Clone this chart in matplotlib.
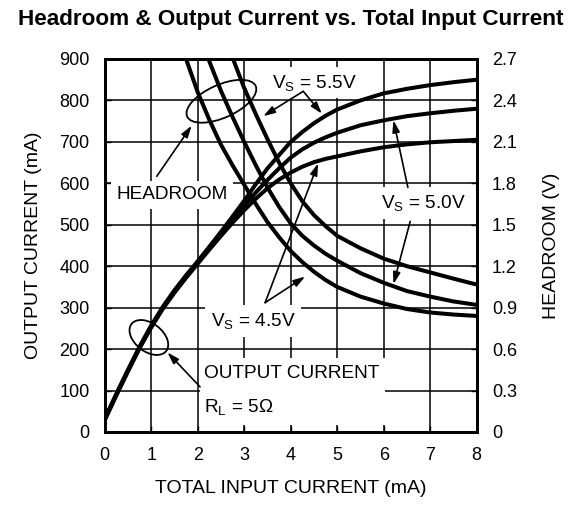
import matplotlib
matplotlib.use("Agg")
import matplotlib.pyplot as plt
import matplotlib.transforms as mtransforms
from matplotlib.patches import Ellipse
import numpy as np

plt.rcParams['font.family'] = ['Liberation Sans', 'DejaVu Sans']
plt.rcParams['mathtext.default'] = 'regular'

# output current (mA) vs total input current (mA)
i_in = [0, 0.25, 0.5, 0.75, 1, 1.25, 1.5, 1.75, 2, 2.25, 2.5, 2.75, 3, 3.25,
        3.5, 3.75, 4, 4.25, 4.5, 4.75, 5, 5.5, 6, 6.5, 7, 7.5, 8]
iout_55 = [32, 92, 150, 206, 257, 302, 342, 378, 412, 447, 483, 520, 558, 598,
           636, 668, 700, 724, 745, 763, 778, 800, 817, 828, 837, 844, 850]
iout_50 = [30, 90, 148, 204, 255, 300, 339, 375, 409, 444, 478, 512, 546, 578,
           608, 636, 662, 682, 698, 711, 722, 740, 752, 762, 769, 775, 780]
iout_45 = [28, 88, 146, 202, 252, 297, 336, 372, 406, 440, 473, 505, 535, 563,
           588, 609, 626, 640, 651, 659, 665, 677, 687, 694, 699, 702, 705]

# headroom (V) vs total input current (mA)
hr_x_45 = [1.75, 2.0, 2.25, 2.5, 2.75, 3.0, 3.25, 3.5, 3.75, 4.0, 4.25, 4.5,
           4.75, 5.0, 5.5, 6.0, 6.5, 7.0, 7.5, 8.0]
hr_45 = [2.70, 2.46, 2.26, 2.08, 1.93, 1.79, 1.65, 1.52, 1.41, 1.31, 1.23, 1.16,
         1.10, 1.05, 0.98, 0.93, 0.89, 0.865, 0.85, 0.84]
hr_x_50 = [2.23, 2.5, 2.75, 3.0, 3.25, 3.5, 3.75, 4.0, 4.25, 4.5, 4.75, 5.0,
           5.5, 6.0, 6.5, 7.0, 7.5, 8.0]
hr_50 = [2.70, 2.47, 2.28, 2.10, 1.93, 1.77, 1.63, 1.51, 1.42, 1.35, 1.29, 1.24,
         1.15, 1.08, 1.02, 0.98, 0.945, 0.92]
hr_x_55 = [2.76, 3.0, 3.25, 3.5, 3.75, 4.0, 4.25, 4.5, 4.75, 5.0, 5.5, 6.0,
           6.5, 7.0, 7.5, 8.0]
hr_55 = [2.70, 2.49, 2.30, 2.12, 1.95, 1.80, 1.67, 1.57, 1.49, 1.42, 1.33, 1.255,
         1.20, 1.155, 1.11, 1.067]

x_ticks = np.arange(0, 9, 1)
left_ticks = np.arange(0, 1000, 100)
right_ticks = [0, 0.3, 0.6, 0.9, 1.2, 1.5, 1.8, 2.1, 2.4, 2.7]
right_labels = ['0', '0.3', '0.6', '0.9', '1.2', '1.5', '1.8', '2.1', '2.4', '2.7']

fig = plt.figure(figsize=(5.8, 5.05), dpi=100)
ax = fig.add_axes([0.1805, 0.1446, 0.6414, 0.7386])
ax2 = ax.twinx()

lw_curve = 2.9
for y in (iout_55, iout_50, iout_45):
    ax.plot(i_in, y, color='black', lw=lw_curve, zorder=3)
for xs, ys in ((hr_x_45, hr_45), (hr_x_50, hr_50), (hr_x_55, hr_55)):
    ax2.plot(xs, ys, color='black', lw=lw_curve, zorder=3)

ax.set_xlim(0, 8)
ax.set_ylim(0, 900)
ax2.set_ylim(0, 2.7)
ax.set_xticks(x_ticks)
ax.set_yticks(left_ticks)
ax2.set_yticks(right_ticks)
ax2.set_yticklabels(right_labels)
ax.grid(True, color='black', lw=1.1)
ax.set_axisbelow(True)
for a in (ax, ax2):
    for s in a.spines.values():
        s.set_linewidth(2.0)
ax.tick_params(axis='both', direction='in', length=4, width=1, pad=11, labelsize=13)
ax2.tick_params(axis='y', direction='in', length=4, width=1, pad=11, labelsize=13)

ax.set_xlabel('TOTAL INPUT CURRENT (mA)', fontsize=14, labelpad=11)
ax.set_ylabel('OUTPUT CURRENT (mA)', fontsize=14, labelpad=12)
ax2.set_ylabel('HEADROOM (V)', fontsize=14, labelpad=19)

fig.text(291 / 580, 1 - 20 / 505, 'Headroom & Output Current vs. Total Input Current',
         ha='center', va='center', fontsize=16.2, fontweight='bold')

tr = ax.transData
box = dict(boxstyle='square,pad=0.3', fc='white', ec='none')
arrow = dict(arrowstyle='-|>,head_length=0.7,head_width=0.22', color='black',
             lw=1.2, shrinkA=0, shrinkB=0)
fs_note = 13.7


def label(x, y, s, ha='center'):
    ax2.text(x, y, s, transform=tr, ha=ha, va='center', fontsize=fs_note,
             bbox=box, zorder=5)


def pointer(tail, head):
    ax2.annotate('', xy=head, xytext=tail, xycoords=tr, textcoords=tr,
                 arrowprops=arrow, zorder=6)


def ring(x, y, w, h, angle):
    t = fig.dpi_scale_trans + mtransforms.ScaledTranslation(x, y, tr)
    e = Ellipse((0, 0), w / 100, h / 100, angle=angle, transform=t,
                fill=False, ec='black', lw=1.3, zorder=6)
    ax2.add_artist(e)


label(1.45, 572, 'HEADROOM')
pointer((1.12, 617), (1.87, 739))
ring(2.51, 798, 75, 33, 24)

label(4.5, 843, r'V$_S$ = 5.5V')
pointer((4.27, 822), (3.41, 762))
pointer((4.27, 822), (4.67, 768))

label(6.85, 553, r'V$_S$ = 5.0V')
pointer((6.52, 590), (6.21, 752))
pointer((6.57, 508), (6.21, 357))

label(3.19, 268, r'V$_S$ = 4.5V')
pointer((3.45, 312), (4.59, 648))
pointer((3.45, 312), (4.31, 375))

# white panel behind the output current note
ax2.fill_between([2.05, 6.03], [17, 17], [179, 179], transform=tr,
                 color='white', lw=0, zorder=4)
ax2.text(2.13, 140, 'OUTPUT CURRENT', transform=tr, ha='left', va='center',
         fontsize=fs_note, zorder=5)
ax2.text(2.13, 60, r'R$_L$ = 5Ω', transform=tr, ha='left', va='center',
         fontsize=fs_note, zorder=5)
pointer((2.05, 109), (1.35, 192))
ring(0.95, 228, 44, 28, -38)

fig.savefig('out.png', dpi=100)
